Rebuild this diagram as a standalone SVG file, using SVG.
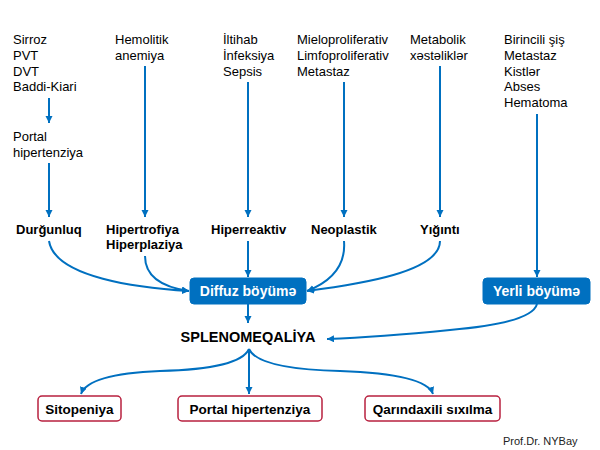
<svg xmlns="http://www.w3.org/2000/svg" width="600" height="450" viewBox="0 0 600 450">
<style>
text{font-family:"Liberation Sans",Arial,sans-serif;fill:#000}
.t{font-size:13px}
.b{font-size:13px;font-weight:bold}
.w{font-size:14px;font-weight:bold;fill:#fff}
.r{font-size:13.5px;font-weight:bold}
.c{fill:none;stroke:#0070C0;stroke-width:2}
.bx{fill:#0070C0;stroke:#0070C0}
.rb{fill:#fff;stroke:#B8203F;stroke-width:1.5}
</style>
<defs>
<marker id="ah" markerUnits="userSpaceOnUse" markerWidth="8" markerHeight="8" refX="7" refY="3.5" orient="auto"><path d="M0,0 L7,3.5 L0,7 z" fill="#0070C0"/></marker>
</defs>
<g id="n-sirroz"><text class="t" x="13" y="44">Sirroz</text><text class="t" x="13" y="60">PVT</text><text class="t" x="13" y="76">DVT</text><text class="t" x="13" y="91">Baddi-Kiari</text></g>
<g id="n-portal"><text class="t" x="13" y="141">Portal</text><text class="t" x="13" y="157">hipertenziya</text></g>
<g id="n-hemolitik"><text class="t" x="115" y="44">Hemolitik</text><text class="t" x="115" y="60">anemiya</text></g>
<g id="n-iltihab"><text class="t" x="223" y="44">İltihab</text><text class="t" x="223" y="60">İnfeksiya</text><text class="t" x="223" y="76">Sepsis</text></g>
<g id="n-mielo"><text class="t" x="297" y="44">Mieloproliferativ</text><text class="t" x="297" y="60">Limfoproliferativ</text><text class="t" x="297" y="76">Metastaz</text></g>
<g id="n-metabolik"><text class="t" x="410" y="44">Metabolik</text><text class="t" x="410" y="60">xəstəliklər</text></g>
<g id="n-birincili"><text class="t" x="504" y="44">Birincili şiş</text><text class="t" x="504" y="60">Metastaz</text><text class="t" x="504" y="75.5">Kistlər</text><text class="t" x="504" y="91">Abses</text><text class="t" x="504" y="107">Hematoma</text></g>
<g id="n-durgunluq"><text class="b" x="16" y="234">Durğunluq</text></g>
<g id="n-hipertrofiya"><text class="b" x="106" y="234">Hipertrofiya</text><text class="b" x="106" y="249">Hiperplaziya</text></g>
<g id="n-hiperreaktiv"><text class="b" x="211" y="234">Hiperreaktiv</text></g>
<g id="n-neoplastik"><text class="b" x="311" y="234">Neoplastik</text></g>
<g id="n-yiginti"><text class="b" x="420" y="234">Yığıntı</text></g>
<g id="n-diffuz"><rect class="bx" x="190" y="278" width="116" height="26" rx="4"/><text class="w" x="248" y="296" text-anchor="middle">Diffuz böyümə</text></g>
<g id="n-yerli"><rect class="bx" x="483" y="278" width="107" height="26" rx="4"/><text class="w" x="536.5" y="296" text-anchor="middle">Yerli böyümə</text></g>
<g id="n-spleno"><text x="248" y="342" text-anchor="middle" style="font-size:14.5px;font-weight:bold">SPLENOMEQALİYA</text></g>
<g id="n-sitopeniya"><rect class="rb" x="38" y="396" width="83" height="25" rx="4"/><text class="r" x="79.5" y="414" text-anchor="middle">Sitopeniya</text></g>
<g id="n-portalhip"><rect class="rb" x="178" y="396" width="144" height="25" rx="4"/><text class="r" x="250" y="414" text-anchor="middle">Portal hipertenziya</text></g>
<g id="n-qarin"><rect class="rb" x="365" y="396" width="135" height="25" rx="4"/><text class="r" x="432.5" y="414" text-anchor="middle">Qarındaxili sıxılma</text></g>
<g id="n-author"><text x="503" y="445" style="font-size:11px;fill:#222">Prof.Dr. NYBay</text></g>
<g id="connectors">
<path class="c" d="M49,98 L49,123" marker-end="url(#ah)"/>
<path class="c" d="M49,163 L49,217" marker-end="url(#ah)"/>
<path class="c" d="M145,66 L145,217" marker-end="url(#ah)"/>
<path class="c" d="M248,82 L248,217" marker-end="url(#ah)"/>
<path class="c" d="M344,82 L344,217" marker-end="url(#ah)"/>
<path class="c" d="M440,66 L440,217" marker-end="url(#ah)"/>
<path class="c" d="M537,114 L537,277" marker-end="url(#ah)"/>
<path class="c" d="M49,241 C55,278 140,288 189,291" marker-end="url(#ah)"/>
<path class="c" d="M145,256 C145,280 168,288 189,291" marker-end="url(#ah)"/>
<path class="c" d="M248,241 L248,277" marker-end="url(#ah)"/>
<path class="c" d="M344,241 C346,266 330,282 307,291" marker-end="url(#ah)"/>
<path class="c" d="M440,241 C440,272 360,284 307,291" marker-end="url(#ah)"/>
<path class="c" d="M248,304 L248,323" marker-end="url(#ah)"/>
<path class="c" d="M537,304 Q532,323 450,330 Q380,337 327,339" marker-end="url(#ah)"/>
<path class="c" d="M249,349 Q240,369 160,371 Q88,374 81,394" marker-end="url(#ah)"/>
<path class="c" d="M249,349 L249,394" marker-end="url(#ah)"/>
<path class="c" d="M249,349 Q258,369 340,371 Q426,374 433,394" marker-end="url(#ah)"/>
</g>
</svg>
